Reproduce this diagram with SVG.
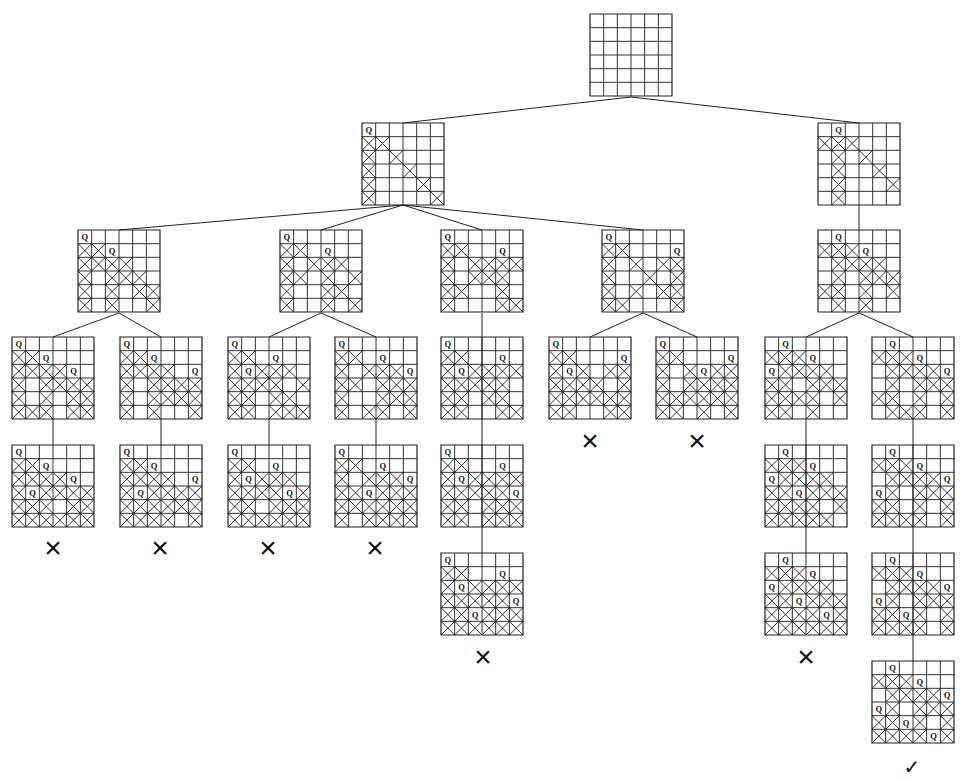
<svg xmlns="http://www.w3.org/2000/svg" xmlns:xlink="http://www.w3.org/1999/xlink" width="961" height="778" viewBox="0 0 961 778">
<style>
.gb{fill:#fff;stroke:#222;stroke-width:1.2}
.gl{fill:none;stroke:#333;stroke-width:1}
.x{fill:none;stroke:#1a1a1a;stroke-width:0.9}
.q{font-family:"Liberation Serif",serif;font-size:8.5px;font-weight:bold;text-anchor:middle;fill:#111}
.c{fill:none;stroke:#222;stroke-width:1}
.m{font-family:"Liberation Sans",sans-serif;font-size:30px;text-anchor:middle;fill:#111}
.ck{font-family:"DejaVu Sans",sans-serif;font-size:20px;text-anchor:middle;fill:#111}
</style>
<defs>
<g id="grid">
<rect width="6" height="6" class="gb" vector-effect="non-scaling-stroke"/>
<path class="gl" vector-effect="non-scaling-stroke" d="M1 0V6M2 0V6M3 0V6M4 0V6M5 0V6M0 1H6M0 2H6M0 3H6M0 4H6M0 5H6"/>
</g>
<path id="x" class="x" vector-effect="non-scaling-stroke" d="M0 0L1 1M1 0L0 1"/>
</defs>
<rect width="961" height="778" fill="#fff"/>

<g id="root" transform="translate(590,14)"><g transform="scale(13.6667)"><use href="#grid"/></g></g>

<g id="L1a" transform="translate(362,123)"><g transform="scale(13.6667)"><use href="#grid"/>
<use href="#x" x="0" y="1"/><use href="#x" x="1" y="1"/>
<use href="#x" x="0" y="2"/><use href="#x" x="2" y="2"/>
<use href="#x" x="0" y="3"/><use href="#x" x="3" y="3"/>
<use href="#x" x="0" y="4"/><use href="#x" x="4" y="4"/>
<use href="#x" x="0" y="5"/><use href="#x" x="5" y="5"/>
</g><text class="q" x="6.83" y="10">Q</text></g>

<g id="L1b" transform="translate(818,123)"><g transform="scale(13.6667)"><use href="#grid"/>
<use href="#x" x="0" y="1"/><use href="#x" x="1" y="1"/><use href="#x" x="2" y="1"/>
<use href="#x" x="1" y="2"/><use href="#x" x="3" y="2"/>
<use href="#x" x="1" y="3"/><use href="#x" x="4" y="3"/>
<use href="#x" x="1" y="4"/><use href="#x" x="5" y="4"/>
<use href="#x" x="1" y="5"/>
</g><text class="q" x="20.5" y="10">Q</text></g>

<g id="L2a" transform="translate(78,230)"><g transform="scale(13.6667)"><use href="#grid"/>
<use href="#x" x="0" y="1"/><use href="#x" x="1" y="1"/>
<use href="#x" x="0" y="2"/><use href="#x" x="1" y="2"/><use href="#x" x="2" y="2"/><use href="#x" x="3" y="2"/>
<use href="#x" x="0" y="3"/><use href="#x" x="2" y="3"/><use href="#x" x="3" y="3"/><use href="#x" x="4" y="3"/>
<use href="#x" x="0" y="4"/><use href="#x" x="2" y="4"/><use href="#x" x="4" y="4"/><use href="#x" x="5" y="4"/>
<use href="#x" x="0" y="5"/><use href="#x" x="2" y="5"/><use href="#x" x="5" y="5"/>
</g><text class="q" x="6.83" y="10">Q</text><text class="q" x="34.17" y="23.67">Q</text></g>

<g id="L2b" transform="translate(280,230)"><g transform="scale(13.6667)"><use href="#grid"/>
<use href="#x" x="0" y="1"/><use href="#x" x="1" y="1"/>
<use href="#x" x="0" y="2"/><use href="#x" x="2" y="2"/><use href="#x" x="3" y="2"/><use href="#x" x="4" y="2"/>
<use href="#x" x="0" y="3"/><use href="#x" x="1" y="3"/><use href="#x" x="3" y="3"/><use href="#x" x="5" y="3"/>
<use href="#x" x="0" y="4"/><use href="#x" x="3" y="4"/><use href="#x" x="4" y="4"/>
<use href="#x" x="0" y="5"/><use href="#x" x="3" y="5"/><use href="#x" x="5" y="5"/>
</g><text class="q" x="6.83" y="10">Q</text><text class="q" x="47.83" y="23.67">Q</text></g>

<g id="L2c" transform="translate(441,230)"><g transform="scale(13.6667)"><use href="#grid"/>
<use href="#x" x="0" y="1"/><use href="#x" x="1" y="1"/>
<use href="#x" x="0" y="2"/><use href="#x" x="2" y="2"/><use href="#x" x="3" y="2"/><use href="#x" x="4" y="2"/><use href="#x" x="5" y="2"/>
<use href="#x" x="0" y="3"/><use href="#x" x="2" y="3"/><use href="#x" x="3" y="3"/><use href="#x" x="4" y="3"/>
<use href="#x" x="0" y="4"/><use href="#x" x="1" y="4"/><use href="#x" x="4" y="4"/>
<use href="#x" x="0" y="5"/><use href="#x" x="4" y="5"/><use href="#x" x="5" y="5"/>
</g><text class="q" x="6.83" y="10">Q</text><text class="q" x="61.5" y="23.67">Q</text></g>

<g id="L2d" transform="translate(602,230)"><g transform="scale(13.6667)"><use href="#grid"/>
<use href="#x" x="0" y="1"/><use href="#x" x="1" y="1"/>
<use href="#x" x="0" y="2"/><use href="#x" x="2" y="2"/><use href="#x" x="4" y="2"/><use href="#x" x="5" y="2"/>
<use href="#x" x="0" y="3"/><use href="#x" x="3" y="3"/><use href="#x" x="5" y="3"/>
<use href="#x" x="0" y="4"/><use href="#x" x="2" y="4"/><use href="#x" x="4" y="4"/><use href="#x" x="5" y="4"/>
<use href="#x" x="0" y="5"/><use href="#x" x="1" y="5"/><use href="#x" x="5" y="5"/>
</g><text class="q" x="6.83" y="10">Q</text><text class="q" x="75.17" y="23.67">Q</text></g>

<g id="L2e" transform="translate(818,230)"><g transform="scale(13.6667)"><use href="#grid"/>
<use href="#x" x="0" y="1"/><use href="#x" x="1" y="1"/><use href="#x" x="2" y="1"/>
<use href="#x" x="1" y="2"/><use href="#x" x="2" y="2"/><use href="#x" x="3" y="2"/><use href="#x" x="4" y="2"/>
<use href="#x" x="1" y="3"/><use href="#x" x="3" y="3"/><use href="#x" x="4" y="3"/><use href="#x" x="5" y="3"/>
<use href="#x" x="0" y="4"/><use href="#x" x="1" y="4"/><use href="#x" x="3" y="4"/><use href="#x" x="5" y="4"/>
<use href="#x" x="1" y="5"/><use href="#x" x="3" y="5"/>
</g><text class="q" x="20.5" y="10">Q</text><text class="q" x="47.83" y="23.67">Q</text></g>

<g id="L3a" transform="translate(12,337)"><g transform="scale(13.6667)"><use href="#grid"/>
<use href="#x" x="0" y="1"/><use href="#x" x="1" y="1"/>
<use href="#x" x="0" y="2"/><use href="#x" x="1" y="2"/><use href="#x" x="2" y="2"/><use href="#x" x="3" y="2"/>
<use href="#x" x="0" y="3"/><use href="#x" x="2" y="3"/><use href="#x" x="3" y="3"/><use href="#x" x="4" y="3"/><use href="#x" x="5" y="3"/>
<use href="#x" x="0" y="4"/><use href="#x" x="2" y="4"/><use href="#x" x="4" y="4"/><use href="#x" x="5" y="4"/>
<use href="#x" x="0" y="5"/><use href="#x" x="1" y="5"/><use href="#x" x="2" y="5"/><use href="#x" x="4" y="5"/><use href="#x" x="5" y="5"/>
</g><text class="q" x="6.83" y="10">Q</text><text class="q" x="34.17" y="23.67">Q</text><text class="q" x="61.5" y="37.33">Q</text></g>

<g id="L3b" transform="translate(120,337)"><g transform="scale(13.6667)"><use href="#grid"/>
<use href="#x" x="0" y="1"/><use href="#x" x="1" y="1"/>
<use href="#x" x="0" y="2"/><use href="#x" x="1" y="2"/><use href="#x" x="2" y="2"/><use href="#x" x="3" y="2"/>
<use href="#x" x="0" y="3"/><use href="#x" x="2" y="3"/><use href="#x" x="3" y="3"/><use href="#x" x="4" y="3"/><use href="#x" x="5" y="3"/>
<use href="#x" x="0" y="4"/><use href="#x" x="2" y="4"/><use href="#x" x="3" y="4"/><use href="#x" x="4" y="4"/><use href="#x" x="5" y="4"/>
<use href="#x" x="0" y="5"/><use href="#x" x="2" y="5"/><use href="#x" x="5" y="5"/>
</g><text class="q" x="6.83" y="10">Q</text><text class="q" x="34.17" y="23.67">Q</text><text class="q" x="75.17" y="37.33">Q</text></g>

<g id="L3c" transform="translate(228,337)"><g transform="scale(13.6667)"><use href="#grid"/>
<use href="#x" x="0" y="1"/><use href="#x" x="1" y="1"/>
<use href="#x" x="0" y="2"/><use href="#x" x="2" y="2"/><use href="#x" x="3" y="2"/><use href="#x" x="4" y="2"/>
<use href="#x" x="0" y="3"/><use href="#x" x="1" y="3"/><use href="#x" x="2" y="3"/><use href="#x" x="3" y="3"/><use href="#x" x="5" y="3"/>
<use href="#x" x="0" y="4"/><use href="#x" x="1" y="4"/><use href="#x" x="3" y="4"/><use href="#x" x="4" y="4"/>
<use href="#x" x="0" y="5"/><use href="#x" x="1" y="5"/><use href="#x" x="3" y="5"/><use href="#x" x="4" y="5"/><use href="#x" x="5" y="5"/>
</g><text class="q" x="6.83" y="10">Q</text><text class="q" x="47.83" y="23.67">Q</text><text class="q" x="20.5" y="37.33">Q</text></g>

<g id="L3d" transform="translate(335,337)"><g transform="scale(13.6667)"><use href="#grid"/>
<use href="#x" x="0" y="1"/><use href="#x" x="1" y="1"/>
<use href="#x" x="0" y="2"/><use href="#x" x="2" y="2"/><use href="#x" x="3" y="2"/><use href="#x" x="4" y="2"/>
<use href="#x" x="0" y="3"/><use href="#x" x="1" y="3"/><use href="#x" x="3" y="3"/><use href="#x" x="4" y="3"/><use href="#x" x="5" y="3"/>
<use href="#x" x="0" y="4"/><use href="#x" x="3" y="4"/><use href="#x" x="4" y="4"/><use href="#x" x="5" y="4"/>
<use href="#x" x="0" y="5"/><use href="#x" x="2" y="5"/><use href="#x" x="3" y="5"/><use href="#x" x="5" y="5"/>
</g><text class="q" x="6.83" y="10">Q</text><text class="q" x="47.83" y="23.67">Q</text><text class="q" x="75.17" y="37.33">Q</text></g>

<g id="L3e" transform="translate(441,337)"><g transform="scale(13.6667)"><use href="#grid"/>
<use href="#x" x="0" y="1"/><use href="#x" x="1" y="1"/>
<use href="#x" x="0" y="2"/><use href="#x" x="2" y="2"/><use href="#x" x="3" y="2"/><use href="#x" x="4" y="2"/><use href="#x" x="5" y="2"/>
<use href="#x" x="0" y="3"/><use href="#x" x="1" y="3"/><use href="#x" x="2" y="3"/><use href="#x" x="3" y="3"/><use href="#x" x="4" y="3"/>
<use href="#x" x="0" y="4"/><use href="#x" x="1" y="4"/><use href="#x" x="3" y="4"/><use href="#x" x="4" y="4"/>
<use href="#x" x="0" y="5"/><use href="#x" x="1" y="5"/><use href="#x" x="4" y="5"/><use href="#x" x="5" y="5"/>
</g><text class="q" x="6.83" y="10">Q</text><text class="q" x="61.5" y="23.67">Q</text><text class="q" x="20.5" y="37.33">Q</text></g>

<g id="L3f" transform="translate(549,337)"><g transform="scale(13.6667)"><use href="#grid"/>
<use href="#x" x="0" y="1"/><use href="#x" x="1" y="1"/>
<use href="#x" x="0" y="2"/><use href="#x" x="2" y="2"/><use href="#x" x="4" y="2"/><use href="#x" x="5" y="2"/>
<use href="#x" x="0" y="3"/><use href="#x" x="1" y="3"/><use href="#x" x="2" y="3"/><use href="#x" x="3" y="3"/><use href="#x" x="5" y="3"/>
<use href="#x" x="0" y="4"/><use href="#x" x="1" y="4"/><use href="#x" x="2" y="4"/><use href="#x" x="3" y="4"/><use href="#x" x="4" y="4"/><use href="#x" x="5" y="4"/>
<use href="#x" x="0" y="5"/><use href="#x" x="1" y="5"/><use href="#x" x="4" y="5"/><use href="#x" x="5" y="5"/>
</g><text class="q" x="6.83" y="10">Q</text><text class="q" x="75.17" y="23.67">Q</text><text class="q" x="20.5" y="37.33">Q</text></g>

<g id="L3g" transform="translate(656,337)"><g transform="scale(13.6667)"><use href="#grid"/>
<use href="#x" x="0" y="1"/><use href="#x" x="1" y="1"/>
<use href="#x" x="0" y="2"/><use href="#x" x="2" y="2"/><use href="#x" x="4" y="2"/><use href="#x" x="5" y="2"/>
<use href="#x" x="0" y="3"/><use href="#x" x="2" y="3"/><use href="#x" x="3" y="3"/><use href="#x" x="4" y="3"/><use href="#x" x="5" y="3"/>
<use href="#x" x="0" y="4"/><use href="#x" x="1" y="4"/><use href="#x" x="2" y="4"/><use href="#x" x="3" y="4"/><use href="#x" x="4" y="4"/><use href="#x" x="5" y="4"/>
<use href="#x" x="0" y="5"/><use href="#x" x="1" y="5"/><use href="#x" x="3" y="5"/><use href="#x" x="5" y="5"/>
</g><text class="q" x="6.83" y="10">Q</text><text class="q" x="75.17" y="23.67">Q</text><text class="q" x="47.83" y="37.33">Q</text></g>

<g id="L3h" transform="translate(765,337)"><g transform="scale(13.6667)"><use href="#grid"/>
<use href="#x" x="0" y="1"/><use href="#x" x="1" y="1"/><use href="#x" x="2" y="1"/>
<use href="#x" x="1" y="2"/><use href="#x" x="2" y="2"/><use href="#x" x="3" y="2"/><use href="#x" x="4" y="2"/>
<use href="#x" x="0" y="3"/><use href="#x" x="1" y="3"/><use href="#x" x="3" y="3"/><use href="#x" x="4" y="3"/><use href="#x" x="5" y="3"/>
<use href="#x" x="0" y="4"/><use href="#x" x="1" y="4"/><use href="#x" x="2" y="4"/><use href="#x" x="3" y="4"/><use href="#x" x="5" y="4"/>
<use href="#x" x="0" y="5"/><use href="#x" x="1" y="5"/><use href="#x" x="3" y="5"/>
</g><text class="q" x="20.5" y="10">Q</text><text class="q" x="47.83" y="23.67">Q</text><text class="q" x="6.83" y="37.33">Q</text></g>

<g id="L3i" transform="translate(872,337)"><g transform="scale(13.6667)"><use href="#grid"/>
<use href="#x" x="0" y="1"/><use href="#x" x="1" y="1"/><use href="#x" x="2" y="1"/>
<use href="#x" x="1" y="2"/><use href="#x" x="2" y="2"/><use href="#x" x="3" y="2"/><use href="#x" x="4" y="2"/>
<use href="#x" x="1" y="3"/><use href="#x" x="3" y="3"/><use href="#x" x="4" y="3"/><use href="#x" x="5" y="3"/>
<use href="#x" x="0" y="4"/><use href="#x" x="1" y="4"/><use href="#x" x="3" y="4"/><use href="#x" x="5" y="4"/>
<use href="#x" x="1" y="5"/><use href="#x" x="2" y="5"/><use href="#x" x="3" y="5"/><use href="#x" x="5" y="5"/>
</g><text class="q" x="20.5" y="10">Q</text><text class="q" x="47.83" y="23.67">Q</text><text class="q" x="75.17" y="37.33">Q</text></g>

<g id="L4a" transform="translate(12,445)"><g transform="scale(13.6667)"><use href="#grid"/>
<use href="#x" x="0" y="1"/><use href="#x" x="1" y="1"/>
<use href="#x" x="0" y="2"/><use href="#x" x="1" y="2"/><use href="#x" x="2" y="2"/><use href="#x" x="3" y="2"/>
<use href="#x" x="0" y="3"/><use href="#x" x="2" y="3"/><use href="#x" x="3" y="3"/><use href="#x" x="4" y="3"/><use href="#x" x="5" y="3"/>
<use href="#x" x="0" y="4"/><use href="#x" x="1" y="4"/><use href="#x" x="2" y="4"/><use href="#x" x="4" y="4"/><use href="#x" x="5" y="4"/>
<use href="#x" x="0" y="5"/><use href="#x" x="1" y="5"/><use href="#x" x="2" y="5"/><use href="#x" x="3" y="5"/><use href="#x" x="4" y="5"/><use href="#x" x="5" y="5"/>
</g><text class="q" x="6.83" y="10">Q</text><text class="q" x="34.17" y="23.67">Q</text><text class="q" x="61.5" y="37.33">Q</text><text class="q" x="20.5" y="51">Q</text></g>

<g id="L4b" transform="translate(120,445)"><g transform="scale(13.6667)"><use href="#grid"/>
<use href="#x" x="0" y="1"/><use href="#x" x="1" y="1"/>
<use href="#x" x="0" y="2"/><use href="#x" x="1" y="2"/><use href="#x" x="2" y="2"/><use href="#x" x="3" y="2"/>
<use href="#x" x="0" y="3"/><use href="#x" x="2" y="3"/><use href="#x" x="3" y="3"/><use href="#x" x="4" y="3"/><use href="#x" x="5" y="3"/>
<use href="#x" x="0" y="4"/><use href="#x" x="1" y="4"/><use href="#x" x="2" y="4"/><use href="#x" x="3" y="4"/><use href="#x" x="4" y="4"/><use href="#x" x="5" y="4"/>
<use href="#x" x="0" y="5"/><use href="#x" x="1" y="5"/><use href="#x" x="2" y="5"/><use href="#x" x="3" y="5"/><use href="#x" x="5" y="5"/>
</g><text class="q" x="6.83" y="10">Q</text><text class="q" x="34.17" y="23.67">Q</text><text class="q" x="75.17" y="37.33">Q</text><text class="q" x="20.5" y="51">Q</text></g>

<g id="L4c" transform="translate(228,445)"><g transform="scale(13.6667)"><use href="#grid"/>
<use href="#x" x="0" y="1"/><use href="#x" x="1" y="1"/>
<use href="#x" x="0" y="2"/><use href="#x" x="2" y="2"/><use href="#x" x="3" y="2"/><use href="#x" x="4" y="2"/>
<use href="#x" x="0" y="3"/><use href="#x" x="1" y="3"/><use href="#x" x="2" y="3"/><use href="#x" x="3" y="3"/><use href="#x" x="5" y="3"/>
<use href="#x" x="0" y="4"/><use href="#x" x="1" y="4"/><use href="#x" x="3" y="4"/><use href="#x" x="4" y="4"/><use href="#x" x="5" y="4"/>
<use href="#x" x="0" y="5"/><use href="#x" x="1" y="5"/><use href="#x" x="2" y="5"/><use href="#x" x="3" y="5"/><use href="#x" x="4" y="5"/><use href="#x" x="5" y="5"/>
</g><text class="q" x="6.83" y="10">Q</text><text class="q" x="47.83" y="23.67">Q</text><text class="q" x="20.5" y="37.33">Q</text><text class="q" x="61.5" y="51">Q</text></g>

<g id="L4d" transform="translate(335,445)"><g transform="scale(13.6667)"><use href="#grid"/>
<use href="#x" x="0" y="1"/><use href="#x" x="1" y="1"/>
<use href="#x" x="0" y="2"/><use href="#x" x="2" y="2"/><use href="#x" x="3" y="2"/><use href="#x" x="4" y="2"/>
<use href="#x" x="0" y="3"/><use href="#x" x="1" y="3"/><use href="#x" x="3" y="3"/><use href="#x" x="4" y="3"/><use href="#x" x="5" y="3"/>
<use href="#x" x="0" y="4"/><use href="#x" x="1" y="4"/><use href="#x" x="2" y="4"/><use href="#x" x="3" y="4"/><use href="#x" x="4" y="4"/><use href="#x" x="5" y="4"/>
<use href="#x" x="0" y="5"/><use href="#x" x="2" y="5"/><use href="#x" x="3" y="5"/><use href="#x" x="4" y="5"/><use href="#x" x="5" y="5"/>
</g><text class="q" x="6.83" y="10">Q</text><text class="q" x="47.83" y="23.67">Q</text><text class="q" x="75.17" y="37.33">Q</text><text class="q" x="34.17" y="51">Q</text></g>

<g id="L4e" transform="translate(441,445)"><g transform="scale(13.6667)"><use href="#grid"/>
<use href="#x" x="0" y="1"/><use href="#x" x="1" y="1"/>
<use href="#x" x="0" y="2"/><use href="#x" x="2" y="2"/><use href="#x" x="3" y="2"/><use href="#x" x="4" y="2"/><use href="#x" x="5" y="2"/>
<use href="#x" x="0" y="3"/><use href="#x" x="1" y="3"/><use href="#x" x="2" y="3"/><use href="#x" x="3" y="3"/><use href="#x" x="4" y="3"/>
<use href="#x" x="0" y="4"/><use href="#x" x="1" y="4"/><use href="#x" x="3" y="4"/><use href="#x" x="4" y="4"/><use href="#x" x="5" y="4"/>
<use href="#x" x="0" y="5"/><use href="#x" x="1" y="5"/><use href="#x" x="3" y="5"/><use href="#x" x="4" y="5"/><use href="#x" x="5" y="5"/>
</g><text class="q" x="6.83" y="10">Q</text><text class="q" x="61.5" y="23.67">Q</text><text class="q" x="20.5" y="37.33">Q</text><text class="q" x="75.17" y="51">Q</text></g>

<g id="L4h" transform="translate(765,445)"><g transform="scale(13.6667)"><use href="#grid"/>
<use href="#x" x="0" y="1"/><use href="#x" x="1" y="1"/><use href="#x" x="2" y="1"/>
<use href="#x" x="1" y="2"/><use href="#x" x="2" y="2"/><use href="#x" x="3" y="2"/><use href="#x" x="4" y="2"/>
<use href="#x" x="0" y="3"/><use href="#x" x="1" y="3"/><use href="#x" x="3" y="3"/><use href="#x" x="4" y="3"/><use href="#x" x="5" y="3"/>
<use href="#x" x="0" y="4"/><use href="#x" x="1" y="4"/><use href="#x" x="2" y="4"/><use href="#x" x="3" y="4"/><use href="#x" x="5" y="4"/>
<use href="#x" x="0" y="5"/><use href="#x" x="1" y="5"/><use href="#x" x="2" y="5"/><use href="#x" x="3" y="5"/><use href="#x" x="4" y="5"/>
</g><text class="q" x="20.5" y="10">Q</text><text class="q" x="47.83" y="23.67">Q</text><text class="q" x="6.83" y="37.33">Q</text><text class="q" x="34.17" y="51">Q</text></g>

<g id="L4i" transform="translate(872,445)"><g transform="scale(13.6667)"><use href="#grid"/>
<use href="#x" x="0" y="1"/><use href="#x" x="1" y="1"/><use href="#x" x="2" y="1"/>
<use href="#x" x="1" y="2"/><use href="#x" x="2" y="2"/><use href="#x" x="3" y="2"/><use href="#x" x="4" y="2"/>
<use href="#x" x="1" y="3"/><use href="#x" x="3" y="3"/><use href="#x" x="4" y="3"/><use href="#x" x="5" y="3"/>
<use href="#x" x="0" y="4"/><use href="#x" x="1" y="4"/><use href="#x" x="3" y="4"/><use href="#x" x="5" y="4"/>
<use href="#x" x="0" y="5"/><use href="#x" x="1" y="5"/><use href="#x" x="2" y="5"/><use href="#x" x="3" y="5"/><use href="#x" x="5" y="5"/>
</g><text class="q" x="20.5" y="10">Q</text><text class="q" x="47.83" y="23.67">Q</text><text class="q" x="75.17" y="37.33">Q</text><text class="q" x="6.83" y="51">Q</text></g>

<g id="L5e" transform="translate(441,553)"><g transform="scale(13.6667)"><use href="#grid"/>
<use href="#x" x="0" y="1"/><use href="#x" x="1" y="1"/>
<use href="#x" x="0" y="2"/><use href="#x" x="2" y="2"/><use href="#x" x="3" y="2"/><use href="#x" x="4" y="2"/><use href="#x" x="5" y="2"/>
<use href="#x" x="0" y="3"/><use href="#x" x="1" y="3"/><use href="#x" x="2" y="3"/><use href="#x" x="3" y="3"/><use href="#x" x="4" y="3"/>
<use href="#x" x="0" y="4"/><use href="#x" x="1" y="4"/><use href="#x" x="3" y="4"/><use href="#x" x="4" y="4"/><use href="#x" x="5" y="4"/>
<use href="#x" x="0" y="5"/><use href="#x" x="1" y="5"/><use href="#x" x="2" y="5"/><use href="#x" x="3" y="5"/><use href="#x" x="4" y="5"/><use href="#x" x="5" y="5"/>
</g><text class="q" x="6.83" y="10">Q</text><text class="q" x="61.5" y="23.67">Q</text><text class="q" x="20.5" y="37.33">Q</text><text class="q" x="75.17" y="51">Q</text><text class="q" x="34.17" y="64.67">Q</text></g>

<g id="L5h" transform="translate(765,553)"><g transform="scale(13.6667)"><use href="#grid"/>
<use href="#x" x="0" y="1"/><use href="#x" x="1" y="1"/><use href="#x" x="2" y="1"/>
<use href="#x" x="1" y="2"/><use href="#x" x="2" y="2"/><use href="#x" x="3" y="2"/><use href="#x" x="4" y="2"/>
<use href="#x" x="0" y="3"/><use href="#x" x="1" y="3"/><use href="#x" x="3" y="3"/><use href="#x" x="4" y="3"/><use href="#x" x="5" y="3"/>
<use href="#x" x="0" y="4"/><use href="#x" x="1" y="4"/><use href="#x" x="2" y="4"/><use href="#x" x="3" y="4"/><use href="#x" x="5" y="4"/>
<use href="#x" x="0" y="5"/><use href="#x" x="1" y="5"/><use href="#x" x="2" y="5"/><use href="#x" x="3" y="5"/><use href="#x" x="4" y="5"/><use href="#x" x="5" y="5"/>
</g><text class="q" x="20.5" y="10">Q</text><text class="q" x="47.83" y="23.67">Q</text><text class="q" x="6.83" y="37.33">Q</text><text class="q" x="34.17" y="51">Q</text><text class="q" x="61.5" y="64.67">Q</text></g>

<g id="L5i" transform="translate(872,553)"><g transform="scale(13.6667)"><use href="#grid"/>
<use href="#x" x="0" y="1"/><use href="#x" x="1" y="1"/><use href="#x" x="2" y="1"/>
<use href="#x" x="1" y="2"/><use href="#x" x="2" y="2"/><use href="#x" x="3" y="2"/><use href="#x" x="4" y="2"/>
<use href="#x" x="1" y="3"/><use href="#x" x="3" y="3"/><use href="#x" x="4" y="3"/><use href="#x" x="5" y="3"/>
<use href="#x" x="0" y="4"/><use href="#x" x="1" y="4"/><use href="#x" x="3" y="4"/><use href="#x" x="5" y="4"/>
<use href="#x" x="0" y="5"/><use href="#x" x="1" y="5"/><use href="#x" x="2" y="5"/><use href="#x" x="3" y="5"/><use href="#x" x="5" y="5"/>
</g><text class="q" x="20.5" y="10">Q</text><text class="q" x="47.83" y="23.67">Q</text><text class="q" x="75.17" y="37.33">Q</text><text class="q" x="6.83" y="51">Q</text><text class="q" x="34.17" y="64.67">Q</text></g>

<g id="L6i" transform="translate(872,661)"><g transform="scale(13.6667)"><use href="#grid"/>
<use href="#x" x="0" y="1"/><use href="#x" x="1" y="1"/><use href="#x" x="2" y="1"/>
<use href="#x" x="1" y="2"/><use href="#x" x="2" y="2"/><use href="#x" x="3" y="2"/><use href="#x" x="4" y="2"/>
<use href="#x" x="1" y="3"/><use href="#x" x="3" y="3"/><use href="#x" x="4" y="3"/><use href="#x" x="5" y="3"/>
<use href="#x" x="0" y="4"/><use href="#x" x="1" y="4"/><use href="#x" x="3" y="4"/><use href="#x" x="5" y="4"/>
<use href="#x" x="0" y="5"/><use href="#x" x="1" y="5"/><use href="#x" x="2" y="5"/><use href="#x" x="3" y="5"/><use href="#x" x="5" y="5"/>
</g><text class="q" x="20.5" y="10">Q</text><text class="q" x="47.83" y="23.67">Q</text><text class="q" x="75.17" y="37.33">Q</text><text class="q" x="6.83" y="51">Q</text><text class="q" x="34.17" y="64.67">Q</text><text class="q" x="61.5" y="78.33">Q</text></g>

<g id="connectors" class="c">
<path d="M631 97L403 123M631 97L859 123"/>
<path d="M403 205L119 230M403 205L321 230M403 205L482 230M403 205L643 230M859 205V230"/>
<path d="M119 313L53 337M119 313L161 337M321 313L269 337M321 313L376 337M643 313L590 337M643 313L697 337M859 313L806 337M859 313L913 337"/>
<path d="M53 419V445M161 419V445M269 419V445M376 419V445"/>
<path d="M482 313V553M806 419V553M913 419V661"/>
</g>

<g id="marks">
<text class="m" x="53" y="558">×</text>
<text class="m" x="160" y="558">×</text>
<text class="m" x="268" y="558">×</text>
<text class="m" x="375" y="558">×</text>
<text class="m" x="590" y="451">×</text>
<text class="m" x="697" y="451">×</text>
<text class="m" x="483" y="667">×</text>
<text class="m" x="806" y="667">×</text>
<text class="ck" x="912" y="774">✓</text>
</g>
</svg>
